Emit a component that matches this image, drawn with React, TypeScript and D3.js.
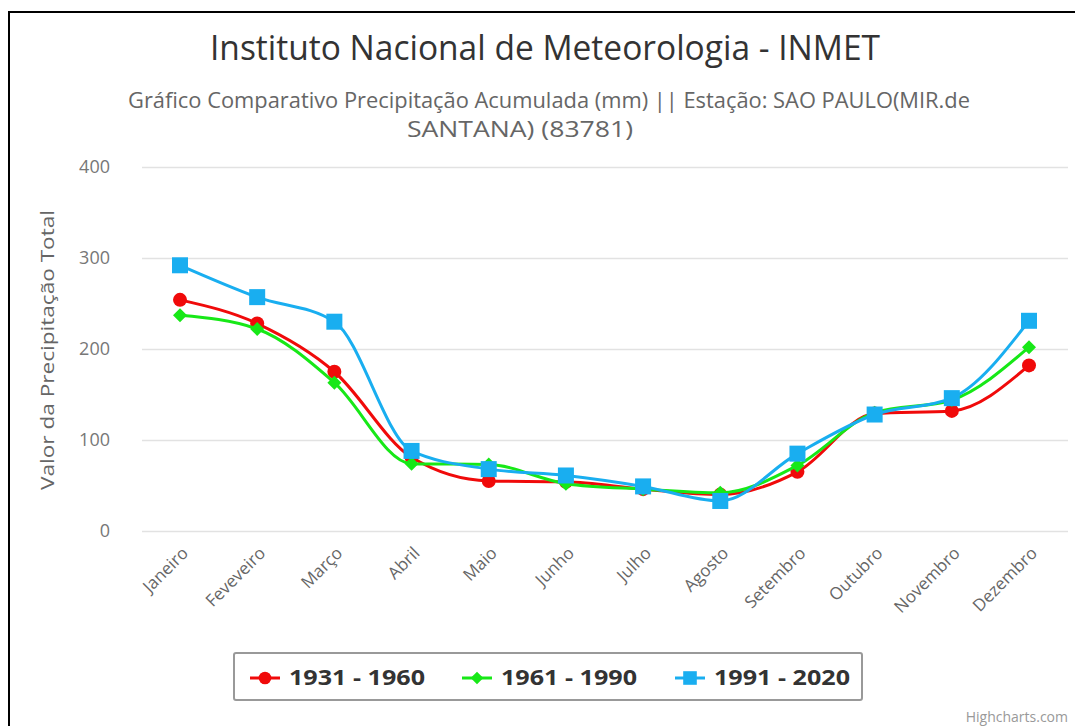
import React, { useEffect, useRef } from "react";
import * as d3 from "d3";

// months (x axis)
const months = [
  "Janeiro", "Feveveiro", "Março", "Abril", "Maio", "Junho",
  "Julho", "Agosto", "Setembro", "Outubro", "Novembro", "Dezembro",
];

// precipitação acumulada (mm)
const serie1931 = [254, 228, 175, 81, 55, 54, 46, 40, 65, 129, 132, 182];
const serie1961 = [237, 222, 163, 74, 73, 52, 46, 42, 72, 130, 144, 202];
const serie1991 = [292, 257, 230, 88, 68, 61, 49, 33, 85, 128, 146, 231];

const seriesNames = ["1931 - 1960", "1961 - 1990", "1991 - 2020"];
const seriesColors = ["#f00a0a", "#17e817", "#19aef0"];
const yTicks = [0, 100, 200, 300, 400];

const W = 1075;
const H = 726;
const FONT = "'Open Sans', 'DejaVu Sans', sans-serif";

function App() {
  const ref = useRef<SVGSVGElement>(null);

  useEffect(() => {
    const svg = d3.select(ref.current);
    svg.selectAll("*").remove();

    const x = d3.scalePoint<string>().domain(months).range([180, 1029]);
    const y = d3.scaleLinear().domain([0, 400]).range([531, 167]);

    // frame
    svg
      .append("path")
      .attr("d", `M9,${H} L9,12 L${W},12`)
      .attr("fill", "none")
      .attr("stroke", "#000")
      .attr("stroke-width", 2);

    // title
    svg
      .append("text")
      .attr("x", 545)
      .attr("y", 60)
      .attr("text-anchor", "middle")
      .attr("textLength", 670)
      .attr("lengthAdjust", "spacingAndGlyphs")
      .attr("font-family", FONT)
      .attr("font-size", 34)
      .attr("fill", "#333")
      .text("Instituto Nacional de Meteorologia - INMET");

    // subtitle
    svg
      .append("text")
      .attr("x", 549)
      .attr("y", 108)
      .attr("text-anchor", "middle")
      .attr("textLength", 842)
      .attr("lengthAdjust", "spacingAndGlyphs")
      .attr("font-family", FONT)
      .attr("font-size", 21)
      .attr("fill", "#666")
      .text("Gráfico Comparativo Precipitação Acumulada (mm) || Estação: SAO PAULO(MIR.de");
    svg
      .append("text")
      .attr("x", 520)
      .attr("y", 137)
      .attr("text-anchor", "middle")
      .attr("textLength", 226)
      .attr("lengthAdjust", "spacingAndGlyphs")
      .attr("font-family", FONT)
      .attr("font-size", 21)
      .attr("fill", "#666")
      .text("SANTANA) (83781)");

    // grid + y labels
    const grid = svg.append("g");
    grid
      .selectAll("line")
      .data(yTicks)
      .enter()
      .append("line")
      .attr("x1", 142)
      .attr("x2", 1068)
      .attr("y1", (d) => y(d) + 0.5)
      .attr("y2", (d) => y(d) + 0.5)
      .attr("stroke", "#e2e2e2")
      .attr("stroke-width", 1.5);
    grid
      .selectAll("text")
      .data(yTicks)
      .enter()
      .append("text")
      .attr("x", 110)
      .attr("y", (d) => y(d) + 6)
      .attr("text-anchor", "end")
      .attr("font-family", FONT)
      .attr("font-size", 18)
      .attr("fill", "#777")
      .text((d) => d);

    // y axis title
    svg
      .append("text")
      .attr("transform", "translate(54,350) rotate(-90)")
      .attr("text-anchor", "middle")
      .attr("textLength", 280)
      .attr("lengthAdjust", "spacingAndGlyphs")
      .attr("font-family", FONT)
      .attr("font-size", 19)
      .attr("fill", "#666")
      .text("Valor da Precipitação Total");

    // x labels
    svg
      .append("g")
      .selectAll("text")
      .data(months)
      .enter()
      .append("text")
      .attr("transform", (d) => `translate(${(x(d) as number) + 5},550) rotate(-45)`)
      .attr("text-anchor", "end")
      .attr("dy", "0.35em")
      .attr("font-family", FONT)
      .attr("font-size", 17)
      .attr("fill", "#666")
      .text((d) => d);

    // series
    const all = [serie1931, serie1961, serie1991];
    const line = d3
      .line<number>()
      .x((_, i) => x(months[i]) as number)
      .y((d) => y(d))
      .curve(d3.curveMonotoneX);

    const drawMarker = (g: any, k: number, cx: number, cy: number, s: number) => {
      if (k === 0) {
        g.append("circle").attr("cx", cx).attr("cy", cy).attr("r", 7 * s).attr("fill", seriesColors[k]);
      } else if (k === 1) {
        const r = 7 * s;
        g.append("path")
          .attr("d", `M${cx},${cy - r} L${cx + r},${cy} L${cx},${cy + r} L${cx - r},${cy} Z`)
          .attr("fill", seriesColors[k]);
      } else {
        const h = 8 * s;
        g.append("rect")
          .attr("x", cx - h)
          .attr("y", cy - h)
          .attr("width", 2 * h)
          .attr("height", 2 * h)
          .attr("fill", seriesColors[k]);
      }
    };

    all.forEach((vals, k) => {
      const g = svg.append("g");
      g.append("path")
        .attr("d", line(vals) as string)
        .attr("fill", "none")
        .attr("stroke", seriesColors[k])
        .attr("stroke-width", 3);
      vals.forEach((v, i) => drawMarker(g, k, x(months[i]) as number, y(v), 1));
    });

    // legend
    const lg = svg.append("g");
    lg.append("rect")
      .attr("x", 234)
      .attr("y", 653)
      .attr("width", 628)
      .attr("height", 47)
      .attr("rx", 2)
      .attr("fill", "#fff")
      .attr("stroke", "#999")
      .attr("stroke-width", 2);
    const legendX = [250, 462, 675];
    seriesNames.forEach((name, k) => {
      const lx = legendX[k];
      const ly = 678;
      lg.append("line")
        .attr("x1", lx)
        .attr("x2", lx + 30)
        .attr("y1", ly)
        .attr("y2", ly)
        .attr("stroke", seriesColors[k])
        .attr("stroke-width", 3);
      drawMarker(lg, k, lx + 15, ly, k === 2 ? 0.85 : 0.9);
      lg.append("text")
        .attr("x", lx + 39)
        .attr("y", ly + 7)
        .attr("font-family", FONT)
        .attr("font-size", 21)
        .attr("font-weight", "bold")
        .attr("textLength", 136)
        .attr("lengthAdjust", "spacingAndGlyphs")
        .attr("fill", "#333")
        .text(name);
    });

    // credits
    svg
      .append("text")
      .attr("x", 1068)
      .attr("y", 722)
      .attr("text-anchor", "end")
      .attr("font-family", FONT)
      .attr("font-size", 14)
      .attr("fill", "#999")
      .text("Highcharts.com");
  }, []);

  return (
    <svg
      ref={ref}
      width={W}
      height={H}
      style={{ position: "absolute", left: 0, top: 0, background: "#fff" }}
    />
  );
}

export default App;
